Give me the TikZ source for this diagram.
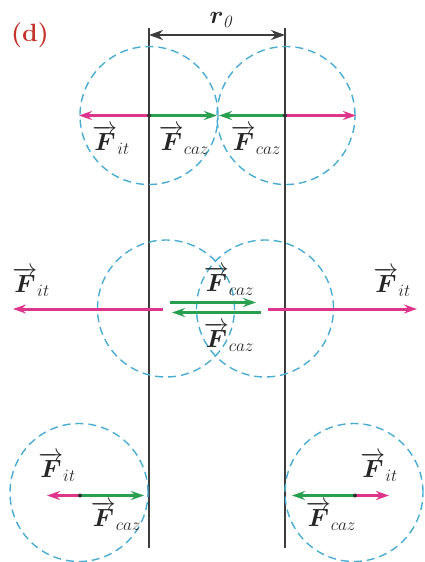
\documentclass[tikz,border=0pt]{standalone}
\usepackage{bm}
\usetikzlibrary{arrows.meta}
\definecolor{pinkF}{RGB}{222,52,140}
\definecolor{greenF}{RGB}{40,160,80}
\definecolor{blueC}{RGB}{75,172,210}
\definecolor{redD}{RGB}{196,52,42}
\definecolor{darkL}{RGB}{60,60,60}
\newcommand{\myF}[1]{$\overrightarrow{\bm{F}}_{#1}$}
\begin{document}
\begin{tikzpicture}[x=1pt,y=-1pt,
  circ/.style={draw=blueC,line width=1.4pt,dash pattern=on 8pt off 5pt},
  vline/.style={draw=darkL,line width=1.1pt},
  fit/.style={draw=pinkF,line width=3pt,-{Stealth[length=13pt,width=9pt]}},
  fcaz/.style={draw=greenF,line width=3pt,-{Stealth[length=13pt,width=9pt]}},
  dot/.style={circle,fill=black!80,inner sep=0pt,minimum size=4pt},
  lab/.style={font=\fontsize{23}{26}\selectfont,inner sep=0pt,text=black!85}]
\useasboundingbox (0,0) rectangle (425,562);
% guide lines
\coordinate (LT) at (149,28); \coordinate (LB) at (149,548);
\coordinate (RT) at (285,28); \coordinate (RB) at (285,548);
\draw[vline] (LT) -- (LB);
\draw[vline] (RT) -- (RB);
% dimension r0
\coordinate (dL) at (149,35); \coordinate (dR) at (285,35);
\draw[draw=darkL,line width=2.7pt,{Stealth[length=14pt,width=10pt]}-{Stealth[length=14pt,width=10pt]}] (dL) -- (dR);
\node[lab] (r0) at (222,20) {$\bm{r}_{\mathit{0}}$};
\node[font=\fontsize{25}{28}\selectfont\bfseries,text=redD,inner sep=0pt] (d) at (30,35) {(d)};
% ---- top row
\node[circ,circle,minimum size=138pt,inner sep=0pt] (c1) at (149,115.5) {};
\node[circ,circle,minimum size=138pt,inner sep=0pt] (c2) at (286,115.5) {};
\coordinate (a1) at (149,115.5); \coordinate (a2) at (285,115.5);
\coordinate (a1L) at (79,115.5); \coordinate (a1R) at (217,115.5);
\coordinate (a2L) at (219,115.5); \coordinate (a2R) at (356,115.5);
\draw[fit] (a1) -- (a1L);
\draw[fcaz] (a1) -- (a1R);
\draw[fcaz] (a2) -- (a2L);
\draw[fit] (a2) -- (a2R);
\node[dot] (p1) at (a1) {};
\node[dot] (p2) at (a2) {};
\node[lab] (t1) at (111,140) {\myF{it}};
\node[lab] (t2) at (184,140) {\myF{caz}};
\node[lab] (t3) at (256,140) {\myF{caz}};
% ---- middle row
\node[circ,circle,minimum size=137pt,inner sep=0pt] (c3) at (166,308.5) {};
\node[circ,circle,minimum size=137pt,inner sep=0pt] (c4) at (265,308.5) {};
\coordinate (m1) at (163,309); \coordinate (m1L) at (13,309);
\coordinate (m2) at (268,309); \coordinate (m2R) at (417,309);
\draw[fit] (m1) -- (m1L);
\draw[fit] (m2) -- (m2R);
\coordinate (g1) at (170,302.5); \coordinate (g1R) at (256,302.5);
\coordinate (g2) at (261,312.5); \coordinate (g2L) at (172,312.5);
\draw[fcaz] (g1) -- (g1R);
\draw[fcaz] (g2) -- (g2L);
\node[lab] (u1) at (31,282) {\myF{it}};
\node[lab] (u2) at (392,282) {\myF{it}};
\node[lab] (u3) at (229,281) {\myF{caz}};
\node[lab] (u4) at (229,337) {\myF{caz}};
% ---- bottom row
\node[circ,circle,minimum size=138pt,inner sep=0pt] (c5) at (79,492.5) {};
\node[circ,circle,minimum size=138pt,inner sep=0pt] (c6) at (354,492.5) {};
\coordinate (b1) at (80,495.5); \coordinate (b1L) at (47,495.5); \coordinate (b1R) at (144,495.5);
\coordinate (b2) at (355,495.5); \coordinate (b2L) at (292,495.5); \coordinate (b2R) at (389,495.5);
\draw[fit] (b1) -- (b1L);
\draw[fcaz] (b1) -- (b1R);
\draw[fcaz] (b2) -- (b2L);
\draw[fit] (b2) -- (b2R);
\node[dot] (q1) at (b1) {};
\node[dot] (q2) at (b2) {};
\node[lab] (v1) at (57,467) {\myF{it}};
\node[lab] (v2) at (116,516) {\myF{caz}};
\node[lab] (v3) at (379,467) {\myF{it}};
\node[lab] (v4) at (331,516) {\myF{caz}};
\end{tikzpicture}
\end{document}
